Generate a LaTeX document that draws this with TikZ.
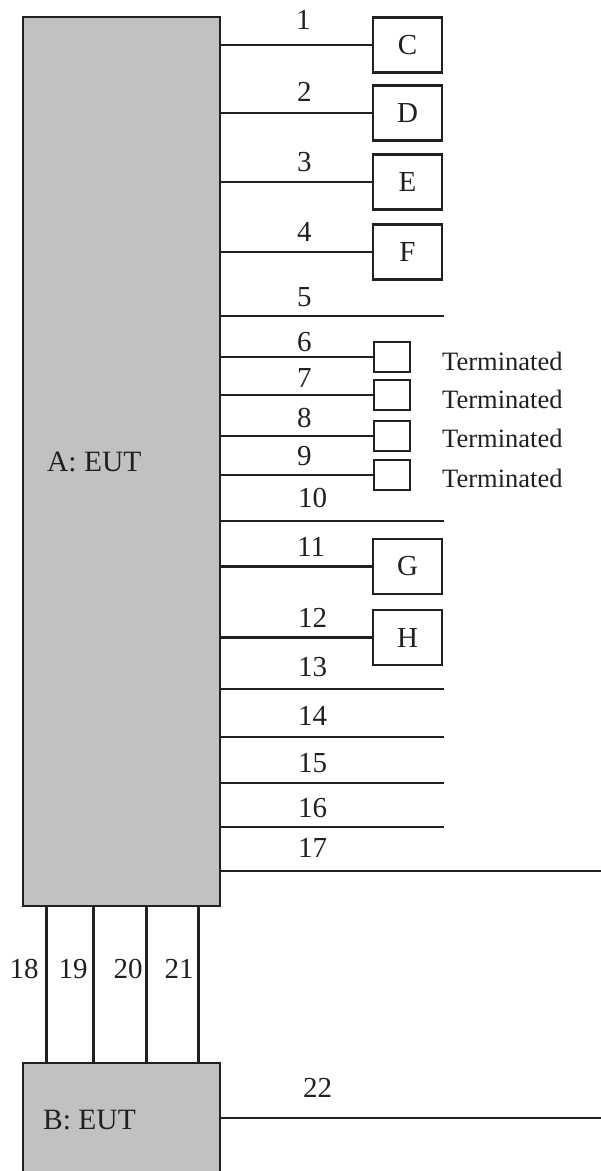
\documentclass[tikz,border=0pt]{standalone}
\usepackage{fontspec}
\setmainfont{Liberation Serif}
\definecolor{ink}{HTML}{231F20}
\definecolor{eutgray}{HTML}{C0C1C3}
\begin{document}
\begin{tikzpicture}[x=1pt,y=-1pt,
  wire/.style={draw=ink, line width=2.9pt},
  eut/.style={draw=ink, fill=eutgray, line width=2.4pt, inner sep=0pt},
  dev/.style={draw=ink, fill=white, line width=2.4pt, minimum width=69pt,
    minimum height=55pt, inner sep=0pt, text=ink, font=\fontsize{29}{30}\selectfont},
  termbox/.style={draw=ink, fill=white, line width=2.4pt, minimum width=36pt,
    minimum height=30pt, inner sep=0pt},
  num/.style={anchor=west, inner sep=0pt, text=ink, font=\fontsize{29}{30}\selectfont},
  vnum/.style={anchor=center, inner sep=0pt, text=ink, font=\fontsize{29}{30}\selectfont},
  termtext/.style={anchor=west, inner sep=0pt, text=ink, font=\fontsize{26.5}{27}\selectfont},
  eutlabel/.style={anchor=west, inner sep=0pt, text=ink, font=\fontsize{29.5}{30}\selectfont}]
\useasboundingbox (0,0) rectangle (601,1171);
\clip (0,0) rectangle (601,1171);

% equipment under test
\node[eut, minimum width=197pt, minimum height=889pt] (A) at (121.5,461.5) {};
\node[eutlabel] (Alabel) at (47,462) {A: EUT};
\node[eut, minimum width=197pt, minimum height=130pt] (B) at (121.5,1128) {};
\node[eutlabel] (Blabel) at (43,1120) {B: EUT};

% auxiliary equipment
\node[dev] (C) at (407.5,45) {C};
\node[dev] (D) at (407.5,113) {D};
\node[dev] (E) at (407.5,182) {E};
\node[dev] (F) at (407.5,252) {F};
\node[dev] (G) at (407.5,566.5) {G};
\node[dev] (H) at (407.5,637.5) {H};

% terminations
\node[termbox] (T6) at (392,357) {};
\node[termbox] (T7) at (392,395) {};
\node[termbox] (T8) at (392,436) {};
\node[termbox] (T9) at (392,475) {};
\node[termtext] (T6t) at (442,361) {Terminated};
\node[termtext] (T7t) at (442,399) {Terminated};
\node[termtext] (T8t) at (442,438) {Terminated};
\node[termtext] (T9t) at (442,478) {Terminated};

% free cable ends
\coordinate (e5) at (444,316);
\coordinate (e10) at (444,521);
\coordinate (e13) at (444,689);
\coordinate (e14) at (444,737);
\coordinate (e15) at (444,783);
\coordinate (e16) at (444,827);
\coordinate (e17) at (601,871);
\coordinate (e22) at (601,1118);

% cables from A
\draw[wire] (A.east |- C.west) -- (C.west);
\draw[wire] (A.east |- D.west) -- (D.west);
\draw[wire] (A.east |- E.west) -- (E.west);
\draw[wire] (A.east |- F.west) -- (F.west);
\draw[wire] (A.east |- e5) -- (e5);
\draw[wire] (A.east |- T6.west) -- (T6.west);
\draw[wire] (A.east |- T7.west) -- (T7.west);
\draw[wire] (A.east |- T8.west) -- (T8.west);
\draw[wire] (A.east |- T9.west) -- (T9.west);
\draw[wire] (A.east |- e10) -- (e10);
\draw[wire] (A.east |- G.west) -- (G.west);
\draw[wire] (A.east |- H.west) -- (H.west);
\draw[wire] (A.east |- e13) -- (e13);
\draw[wire] (A.east |- e14) -- (e14);
\draw[wire] (A.east |- e15) -- (e15);
\draw[wire] (A.east |- e16) -- (e16);
\draw[wire] (A.east |- e17) -- (e17);

% cables between A and B
\draw[wire] ([xshift=25pt]A.south west) -- ([xshift=25pt]B.north west);
\draw[wire] ([xshift=72pt]A.south west) -- ([xshift=72pt]B.north west);
\draw[wire] ([xshift=125pt]A.south west) -- ([xshift=125pt]B.north west);
\draw[wire] ([xshift=177pt]A.south west) -- ([xshift=177pt]B.north west);

% cable from B
\draw[wire] (B.east |- e22) -- (e22);

% cable numbers
\node[num] (n1) at (296,20) {1};
\node[num] (n2) at (297,92) {2};
\node[num] (n3) at (297,162) {3};
\node[num] (n4) at (297,232) {4};
\node[num] (n5) at (297,297) {5};
\node[num] (n6) at (297,342) {6};
\node[num] (n7) at (297,378) {7};
\node[num] (n8) at (297,418) {8};
\node[num] (n9) at (297,456) {9};
\node[num] (n10) at (298,498) {10};
\node[num] (n11) at (297,547) {11};
\node[num] (n12) at (298,618) {12};
\node[num] (n13) at (298,667) {13};
\node[num] (n14) at (298,716) {14};
\node[num] (n15) at (298,763) {15};
\node[num] (n16) at (298,808) {16};
\node[num] (n17) at (298,848) {17};
\node[vnum] (n18) at (24,969) {18};
\node[vnum] (n19) at (73,969) {19};
\node[vnum] (n20) at (128,969) {20};
\node[vnum] (n21) at (179,969) {21};
\node[num] (n22) at (303,1088) {22};
\end{tikzpicture}
\end{document}
